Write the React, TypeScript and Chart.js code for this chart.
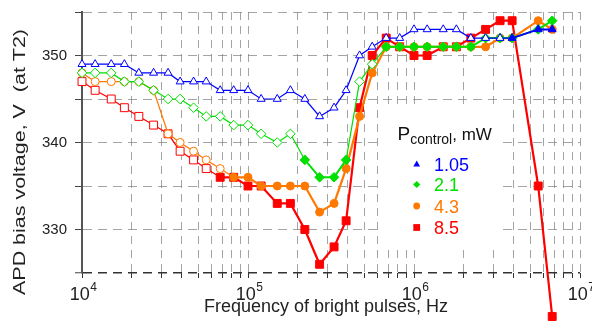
import React, { useEffect, useRef } from 'react';
import { Chart, registerables } from 'chart.js';

Chart.register(...registerables);

const FONT = '"Liberation Sans", Arial, Helvetica, sans-serif';

// Frequencies of bright pulses, Hz (E12 steps)
const frequencies = [
  1e4, 1.2e4, 1.5e4, 1.8e4, 2.2e4, 2.7e4, 3.3e4, 3.9e4, 4.7e4, 5.6e4, 6.8e4, 8.2e4,
  1e5, 1.2e5, 1.5e5, 1.8e5, 2.2e5, 2.7e5, 3.3e5, 3.9e5, 4.7e5, 5.6e5, 6.8e5, 8.2e5,
  1e6, 1.2e6, 1.5e6, 1.8e6, 2.2e6, 2.7e6, 3.3e6, 3.9e6, 5.6e6, 6.8e6,
];

// APD bias voltage, V (at T2), for each P_control
const volts105 = [
  349, 349, 349, 349, 348, 348, 348, 347, 347, 347, 346, 346,
  346, 345, 345, 346, 345, 343, 344, 346, 350, 351, 352, 352,
  353, 353, 353, 353, 352, 352, 352, 352, 353, 353,
];
const volts21 = [
  348, 348, 348, 347, 347, 346, 345, 345, 344, 343, 343, 342,
  342, 341, 340, 341, 338, 336, 336, 338, 347, 349, 351, 351,
  351, 351, 351, 351, 351, 352, 352, 352, 353, 354,
];
const volts43 = [
  348, 347, 347, 347, 347, 346, 341, 340, 339, 338, 337, 336,
  336, 335, 335, 335, 335, 332, 333, 337, 343, 348, 351, 351,
  351, 351, 351, 351, 351, 351, 352, 352, 354, 353,
];
const volts85 = [
  347, 346, 345, 344, 343, 342, 341, 339, 338, 337, 336, 336,
  335, 335, 333, 333, 330, 326, 328, 331, 344, 350, 352, 351,
  350, 350, 351, 351, 352, 353, 354, 354, 335, 320,
];

// 1 = filled marker, 0 = open marker
const filled105 = [
  0, 0, 0, 0, 0, 0, 0, 0, 0, 0, 0, 0,
  0, 0, 0, 0, 0, 0, 0, 0, 0, 0, 0, 0,
  0, 0, 0, 0, 0, 0, 0, 1, 1, 1,
];
const filled21 = [
  0, 0, 0, 0, 0, 0, 0, 0, 0, 0, 0, 0,
  0, 0, 0, 0, 1, 1, 1, 1, 0, 0, 1, 1,
  1, 1, 1, 1, 1, 1, 1, 1, 1, 1,
];
const filled43 = [
  0, 0, 0, 0, 0, 0, 0, 0, 0, 0, 0, 1,
  1, 1, 1, 1, 1, 1, 1, 1, 1, 1, 1, 1,
  1, 1, 1, 1, 1, 1, 1, 1, 1, 1,
];
const filled85 = [
  0, 0, 0, 0, 0, 0, 0, 0, 0, 0, 1, 1,
  1, 1, 1, 1, 1, 1, 1, 1, 1, 1, 1, 1,
  1, 1, 1, 1, 1, 1, 1, 1, 1, 1,
];

const seriesLabels = ['1.05', '2.1', '4.3', '8.5'];
const xGridValues = [
  1e4, 2e4, 3e4, 4e4, 5e4, 6e4, 7e4, 8e4, 9e4,
  1e5, 2e5, 3e5, 4e5, 5e5, 6e5, 7e5, 8e5, 9e5,
  1e6, 2e6, 3e6, 4e6, 5e6, 6e6, 7e6, 8e6, 9e6, 1e7,
];
const xLabelExponents = [4, 5, 6, 7];
const yLabelValues = [330, 340, 350];

const BLUE = '#0000ff';
const GREEN = '#00e000';
const ORANGE = '#ff7800';
const RED = '#ff0000';
const GRID = 'rgba(125,125,125,0.7)';

type Spec = {
  label: string;
  values: number[];
  filled: number[];
  color: string;
  style: string;
  radius: number;
  thick: number;
};

const specs: Spec[] = [
  { label: seriesLabels[0], values: volts105, filled: filled105, color: BLUE, style: 'triangle', radius: 4.6, thick: 2 },
  { label: seriesLabels[1], values: volts21, filled: filled21, color: GREEN, style: 'rectRot', radius: 4.8, thick: 2 },
  { label: seriesLabels[2], values: volts43, filled: filled43, color: ORANGE, style: 'circle', radius: 4, thick: 2.2 },
  { label: seriesLabels[3], values: volts85, filled: filled85, color: RED, style: 'rect', radius: 5.6, thick: 2.2 },
];

function makeDataset(s: Spec) {
  return {
    label: s.label,
    data: frequencies.map((f, i) => ({ x: f, y: s.values[i] })),
    borderColor: s.color,
    backgroundColor: s.color,
    borderWidth: 1.2,
    tension: 0,
    clip: false as any,
    pointStyle: s.style,
    pointRadius: s.radius,
    pointBorderWidth: 1,
    pointBorderColor: s.color,
    pointBackgroundColor: s.filled.map((f) => (f ? s.color : '#ffffff')),
    segment: {
      borderWidth: (ctx: any) =>
        s.filled[ctx.p0DataIndex] && s.filled[ctx.p1DataIndex] ? s.thick : 1.2,
    },
  };
}

function drawMarker(ctx: CanvasRenderingContext2D, style: string, x: number, y: number, r: number, color: string) {
  ctx.save();
  ctx.fillStyle = color;
  ctx.beginPath();
  if (style === 'triangle') {
    ctx.moveTo(x, y - r);
    ctx.lineTo(x + r * 0.866, y + r * 0.5);
    ctx.lineTo(x - r * 0.866, y + r * 0.5);
    ctx.closePath();
  } else if (style === 'rectRot') {
    ctx.moveTo(x, y - r);
    ctx.lineTo(x + r, y);
    ctx.lineTo(x, y + r);
    ctx.lineTo(x - r, y);
    ctx.closePath();
  } else if (style === 'circle') {
    ctx.arc(x, y, r, 0, Math.PI * 2);
  } else {
    ctx.rect(x - r, y - r, 2 * r, 2 * r);
  }
  ctx.fill();
  ctx.restore();
}

const overlayPlugin = {
  id: 'overlay',
  beforeDatasetsDraw(chart: any) {
    const ctx: CanvasRenderingContext2D = chart.ctx;
    const area = chart.chartArea;
    // white legend box
    ctx.save();
    ctx.fillStyle = '#ffffff';
    ctx.fillRect(area.left + 301, area.top + 95, 119, 143);
    ctx.restore();
  },
  afterDatasetsDraw(chart: any) {
    // points lying outside the plot area (the library skips them otherwise)
    const ctx: CanvasRenderingContext2D = chart.ctx;
    const a = chart.chartArea;
    const full = { left: 0, top: 0, right: chart.width, bottom: chart.height };
    chart.data.datasets.forEach((_: any, di: number) => {
      const meta = chart.getDatasetMeta(di);
      meta.data.forEach((el: any) => {
        if (el.x < a.left || el.x > a.right || el.y < a.top || el.y > a.bottom) {
          el.draw(ctx, full);
        }
      });
    });
  },
  afterDraw(chart: any) {
    const ctx: CanvasRenderingContext2D = chart.ctx;
    const xs = chart.scales.x;
    ctx.save();
    ctx.fillStyle = '#222';
    ctx.textAlign = 'left';
    ctx.textBaseline = 'alphabetic';

    // x tick labels 10^n
    const base = xs.top + 27;
    for (const e of xLabelExponents) {
      const px = xs.getPixelForValue(Math.pow(10, e));
      ctx.font = `18px ${FONT}`;
      const w1 = ctx.measureText('10').width;
      ctx.font = `12px ${FONT}`;
      const w2 = ctx.measureText(String(e)).width;
      const start = px - (w1 + w2) / 2 + 1;
      ctx.font = `18px ${FONT}`;
      ctx.fillText('10', start, base);
      ctx.font = `12px ${FONT}`;
      ctx.fillText(String(e), start + w1 + 0.5, base - 9);
    }

    // x title
    ctx.font = `18px ${FONT}`;
    ctx.textAlign = 'center';
    ctx.fillText('Frequency of bright pulses, Hz', 326, xs.top + 39);

    // y title (stretched along its length like the reference)
    ctx.save();
    ctx.translate(20, 162);
    ctx.rotate(-Math.PI / 2);
    ctx.font = `17px ${FONT}`;
    const yTitle = 'APD bias voltage, V  (at T2)';
    const tw = ctx.measureText(yTitle).width;
    ctx.scale(266 / tw, 1);
    ctx.textAlign = 'center';
    ctx.textBaseline = 'middle';
    ctx.fillText(yTitle, 0, 0);
    ctx.restore();

    // legend
    ctx.textAlign = 'left';
    ctx.textBaseline = 'alphabetic';
    ctx.fillStyle = '#111';
    ctx.font = `19px ${FONT}`;
    ctx.fillText('P', 397.5, 140);
    const pw = ctx.measureText('P').width;
    ctx.font = `14px ${FONT}`;
    ctx.fillText('control', 397.5 + pw, 143.5);
    const cw = ctx.measureText('control').width;
    ctx.font = `17px ${FONT}`;
    ctx.fillText(', mW', 397.5 + pw + cw, 140);

    const rowsY = [164.5, 184.5, 206, 227.5];
    const legendR = [3.9, 3.6, 3.4, 3.4];
    specs.forEach((s, i) => {
      drawMarker(ctx, s.style, 416.7, rowsY[i], legendR[i], s.color);
      ctx.font = `18px ${FONT}`;
      ctx.fillStyle = s.color;
      ctx.fillText(s.label, 434, rowsY[i] + 6.5);
    });
    ctx.restore();
  },
};

export default function App() {
  const ref = useRef<HTMLCanvasElement>(null);
  useEffect(() => {
    const canvas = ref.current;
    if (!canvas) return;
    const chart = new Chart(canvas, {
      type: 'line',
      data: { datasets: specs.map(makeDataset) as any },
      options: {
        responsive: false,
        animation: false,
        events: [],
        layout: { padding: { left: 0, right: 12, top: 12, bottom: 0 } },
        plugins: {
          legend: { display: false },
          tooltip: { enabled: false },
          title: { display: false },
        },
        scales: {
          x: {
            type: 'logarithmic',
            min: 1e4,
            max: 1e7,
            afterBuildTicks: (s: any) => {
              s.ticks = xGridValues.map((v) => ({ value: v }));
            },
            afterFit: (s: any) => {
              s.height = 54;
              s.paddingLeft = 0;
              s.paddingRight = 0;
              s.paddingTop = 0;
              s.paddingBottom = 0;
            },
            ticks: { autoSkip: false, maxRotation: 0, minRotation: 0, callback: () => '' },
            grid: {
              color: GRID,
              lineWidth: 1,
              drawTicks: true,
              tickLength: 5,
              tickColor: '#333',
              tickWidth: 1,
            },
            border: { display: false, dash: [8, 6] },
          },
          y: {
            type: 'linear',
            min: 325,
            max: 355,
            afterFit: (s: any) => {
              s.width = 82;
              s.paddingLeft = 0;
              s.paddingRight = 0;
              s.paddingTop = 0;
              s.paddingBottom = 0;
            },
            ticks: {
              stepSize: 5,
              autoSkip: false,
              callback: (v: any) => (yLabelValues.includes(Number(v)) ? String(v) : ''),
              font: { family: FONT, size: 15 },
              color: '#222',
              padding: 8,
            },
            grid: {
              color: (c: any) => (c.tick && c.tick.value === 325 ? '#333' : GRID),
              lineWidth: (c: any) => (c.tick && c.tick.value === 325 ? 1.5 : 1),
              drawTicks: true,
              tickLength: 7,
              tickColor: '#444',
              tickWidth: 1,
            },
            border: { display: true, color: '#555', width: 2, dash: [9, 6] },
          },
        },
      } as any,
      plugins: [overlayPlugin],
    });
    return () => chart.destroy();
  }, []);
  return (
    <div style={{ position: 'fixed', left: 0, top: 0, width: 592, height: 327, background: '#fff' }}>
      <canvas ref={ref} width={592} height={327} style={{ display: 'block', width: 592, height: 327 }} />
    </div>
  );
}
